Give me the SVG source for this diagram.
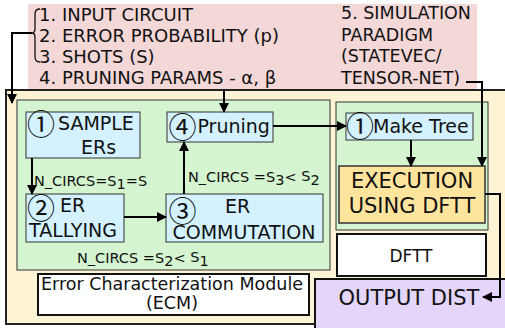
<svg xmlns="http://www.w3.org/2000/svg" width="505" height="328" viewBox="0 0 505 328">
<defs>
<marker id="ah" markerWidth="10" markerHeight="10" refX="9" refY="5" orient="auto" markerUnits="userSpaceOnUse">
<path d="M0,0 L10,5 L0,10 Z" fill="#000"/>
</marker>
<style>
text{font-family:"DejaVu Sans","Noto Sans",sans-serif;fill:#111}
.box{fill:#D3F1FF;stroke:#333;stroke-width:1}
.big{font-size:19px}
.num{font-family:"Noto Sans CJK JP","DejaVu Sans",sans-serif;font-size:28px}
.lbl{font-size:14.5px}
.conn{fill:none;stroke:#000;stroke-width:2}
</style>
</defs>
<rect width="505" height="328" fill="#fff"/>
<g id="inputs">
<rect x="28" y="4" width="449" height="85" fill="#F4D7D7"/>
<path d="M40,9 Q35,9 35,14 L35,29 Q35,33 31.5,33 Q35,33 35,37 L35,57 Q35,62 40,62" fill="none" stroke="#111" stroke-width="1.3"/>
<text x="39" y="20.5" font-size="18">1. INPUT CIRCUIT</text>
<text x="39" y="41.5" font-size="18">2. ERROR PROBABILITY (p)</text>
<text x="39" y="62.5" font-size="18">3. SHOTS (S)</text>
<text x="39" y="83.5" font-size="18">4. PRUNING PARAMS - α, β</text>
<text x="341" y="18.5" font-size="17.5">5. SIMULATION</text>
<text x="341" y="40.5" font-size="17.5">PARADIGM</text>
<text x="341" y="62" font-size="17.5">(STATEVEC/</text>
<text x="341" y="84" font-size="17.5">TENSOR-NET)</text>
</g>
<g id="outer">
<rect x="6" y="90" width="500" height="234" fill="#FFF3D6" stroke="#222" stroke-width="2"/>
</g>
<g id="ecm">
<rect x="17" y="100" width="313" height="170" fill="#D5F5D0" stroke="#333" stroke-width="1"/>
</g>
<g id="dftt-area">
<rect x="336" y="102" width="152" height="128" fill="#D5F5D0" stroke="#333" stroke-width="1"/>
</g>
<g id="sample">
<rect class="box" x="26" y="112" width="114" height="46"/>
<text class="big"><tspan class="num" x="27" y="134.5">①</tspan><tspan x="58" y="130">SAMPLE</tspan><tspan x="81" y="154">ERs</tspan></text>
</g>
<g id="pruning">
<rect class="box" x="167" y="112" width="106" height="30"/>
<text class="big"><tspan class="num" x="168.5" y="138">④</tspan><tspan x="197.5" y="133">Pruning</tspan></text>
</g>
<g id="maketree">
<rect class="box" x="346" y="113" width="127" height="27"/>
<text class="big"><tspan class="num" x="346" y="136.5">①</tspan><tspan x="373" y="133">Make Tree</tspan></text>
</g>
<g id="tallying">
<rect class="box" x="26" y="194" width="98" height="48"/>
<text class="big"><tspan class="num" x="27" y="218.5">②</tspan><tspan x="60" y="212">ER</tspan><tspan x="29" y="237">TALLYING</tspan></text>
</g>
<g id="commutation">
<rect class="box" x="166" y="194" width="157" height="48"/>
<text class="big"><tspan class="num" x="168.5" y="221.5">③</tspan><tspan x="225" y="213">ER</tspan><tspan x="172.5" y="239">COMMUTATION</tspan></text>
</g>
<g id="execution">
<rect x="339" y="166" width="146" height="57" fill="#FFE49E" stroke="#333" stroke-width="1.5"/>
<text x="412" y="188" font-size="21" text-anchor="middle">EXECUTION</text>
<text x="412" y="213" font-size="21" text-anchor="middle">USING DFTT</text>
</g>
<g id="dftt">
<rect x="337" y="234" width="149" height="42" fill="#fff" stroke="#111" stroke-width="2"/>
<text x="411" y="262" font-size="17" text-anchor="middle">DFTT</text>
</g>
<g id="ecm-label">
<rect x="38" y="274" width="271" height="41" fill="#fff" stroke="#111" stroke-width="2"/>
<text x="172" y="290" font-size="17.5" text-anchor="middle">Error Characterization Module</text>
<text x="172" y="309" font-size="17.5" text-anchor="middle">(ECM)</text>
</g>
<g id="output">
<rect x="315" y="279" width="192" height="51" fill="#E3D6FA" stroke="#111" stroke-width="2"/>
<text x="409" y="305" font-size="21" text-anchor="middle">OUTPUT DIST</text>
</g>
<g id="connectors">
<path class="conn" d="M32,33 L12,33 L12,103" marker-end="url(#ah)"/>
<path class="conn" d="M224,89 L224,112" marker-end="url(#ah)"/>
<path class="conn" d="M466,82 L482,82 L482,166" marker-end="url(#ah)"/>
<path class="conn" d="M273,126 L346,126" marker-end="url(#ah)"/>
<path class="conn" d="M411,140 L411,166" marker-end="url(#ah)"/>
<path class="conn" d="M32,158 L32,194" marker-end="url(#ah)"/>
<path class="conn" d="M124,217 L166,217" marker-end="url(#ah)"/>
<path class="conn" d="M184,194 L184,142" marker-end="url(#ah)"/>
<path class="conn" d="M485,194 L500,194 L500,297 L483,297" marker-end="url(#ah)"/>
<text class="lbl" x="34" y="186">N_CIRCS=S<tspan dy="3">1</tspan><tspan dy="-3">=S</tspan></text>
<text class="lbl" x="188" y="181.5">N_CIRCS =S<tspan dy="3">3</tspan><tspan dy="-3">&lt; </tspan><tspan dy="-1">S</tspan><tspan dy="4">2</tspan></text>
<text class="lbl" x="77" y="263">N_CIRCS =S<tspan dy="3">2</tspan><tspan dy="-3">&lt; </tspan><tspan dy="-1">S</tspan><tspan dy="4">1</tspan></text>
</g>
</svg>
